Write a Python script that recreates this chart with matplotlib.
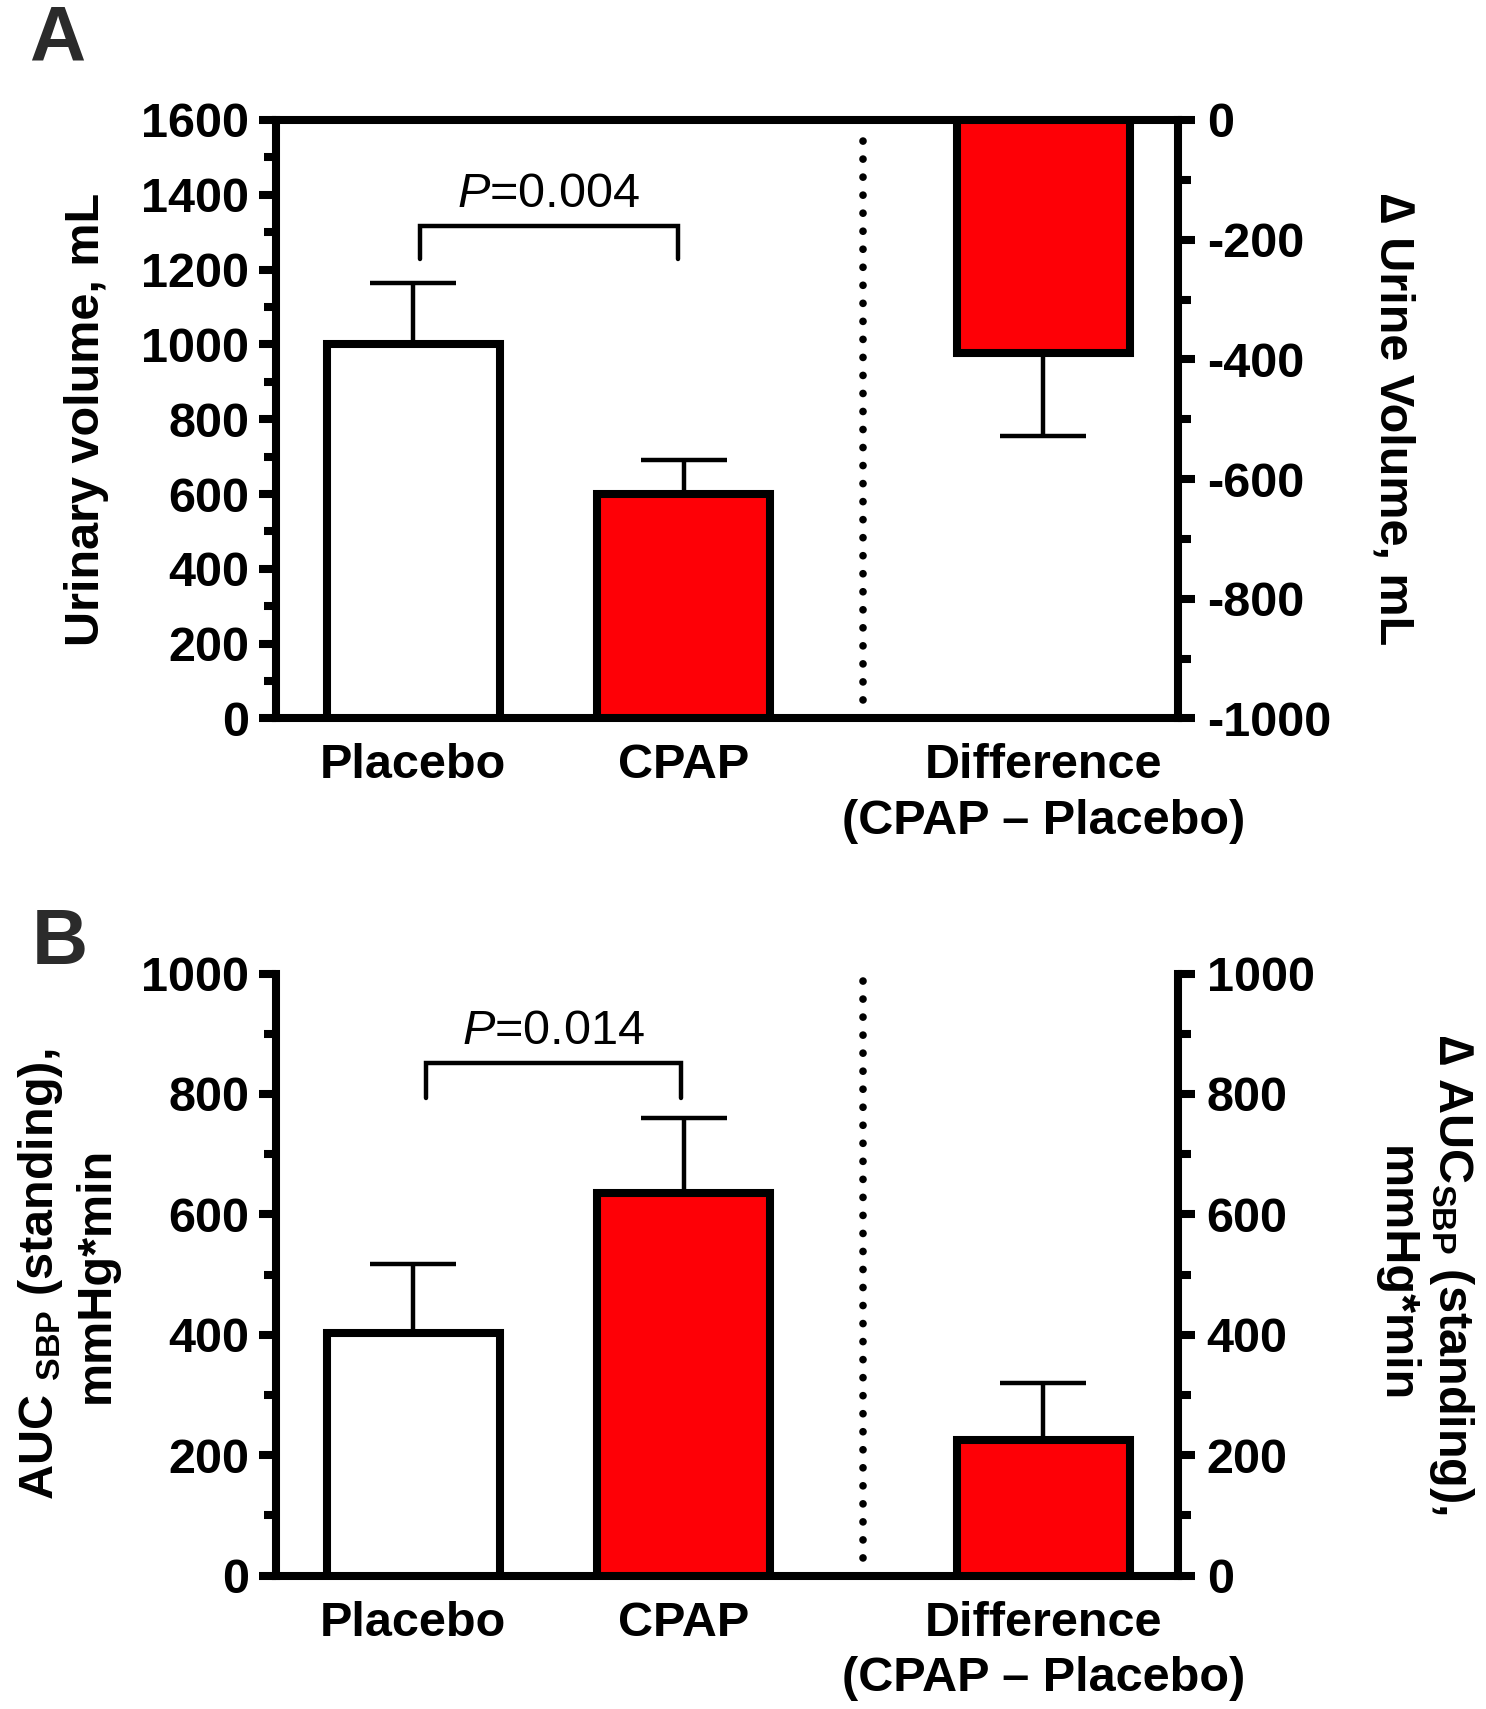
import numpy as np
import matplotlib
matplotlib.use("Agg")
import matplotlib.pyplot as plt
from matplotlib.ticker import MultipleLocator

plt.rcParams['font.family'] = ['Liberation Sans', 'DejaVu Sans']
plt.rcParams['font.weight'] = 'bold'
plt.rcParams['axes.unicode_minus'] = False
plt.rcParams['mathtext.fontset'] = 'custom'
plt.rcParams['mathtext.it'] = 'Liberation Sans:italic:regular'
plt.rcParams['mathtext.bf'] = 'Liberation Sans:bold'
plt.rcParams['mathtext.rm'] = 'Liberation Sans:bold'

# data
groups = ['Placebo', 'CPAP']
diff_label = 'Difference\n(CPAP \u2013 Placebo)'
urine_vals = [1000, 600]
urine_err = [165, 90]
urine_diff = -390
urine_diff_err = 138
urine_p = '0.004'

auc_vals = [403, 635]
auc_err = [115, 125]
auc_diff = 225
auc_diff_err = 95
auc_p = '0.014'

bar_colors = ['white', '#fe0006']
RED = '#fe0006'

xpos = [0, 1]
xdiff = 2.33
xdot = 1.665
bw = 0.64

LW = 5.8
ELW = 3.2
FS = 35

fig = plt.figure(figsize=(14.86, 17.09), dpi=100)
axA = fig.add_axes([0.1856, 0.5796, 0.6068, 0.3502])
axB = fig.add_axes([0.1856, 0.0781, 0.6068, 0.3522])


def style_axis(ax):
    ax.tick_params(axis='y', which='major', length=12, width=LW, labelsize=FS, pad=7, direction='out')
    ax.tick_params(axis='y', which='minor', length=9, width=LW, direction='out')
    ax.tick_params(axis='x', length=0, labelsize=FS, pad=18)


def draw_panel(ax, vals, errs, dval, derr, ylim, dlim, pval, brk, ptxt_y, topspine):
    ax.set_xlim(-0.508, 2.827)
    ax.set_ylim(*ylim)
    yerr = np.array([[0, 0], errs])
    ax.bar(xpos, vals, width=bw, color=bar_colors, edgecolor='black', linewidth=LW,
           yerr=yerr, capsize=31, error_kw=dict(elinewidth=ELW, capthick=ELW, ecolor='black'),
           zorder=3)
    # dotted separator
    ytop = 0.985 if topspine else 1.0
    ax.axvline(xdot, ymin=0.0, ymax=ytop, color='black', lw=5.5, linestyle=(0, (0.01, 2.35)),
               dash_capstyle='round', zorder=2)
    # significance bracket
    x0, x1, ybr, yleg = brk
    ax.plot([x0, x0, x1, x1], [yleg, ybr, ybr, yleg], color='black', lw=3.2,
            solid_capstyle='round', solid_joinstyle='miter', zorder=4)
    ax.text((x0 + x1) / 2, ptxt_y, r'$\it{P}$=' + pval, ha='center', va='center',
            fontsize=FS, fontweight='normal')
    ax.set_xticks([0, 1, xdiff])
    ax.set_xticklabels(groups + [diff_label], fontsize=FS, fontweight='bold', linespacing=1.3)
    for s in ['left', 'bottom', 'top', 'right']:
        ax.spines[s].set_linewidth(LW)
    ax.spines['right'].set_visible(False)
    ax.spines['top'].set_visible(topspine)
    ax2 = ax.twinx()
    ax2.set_ylim(*dlim)
    if dval < 0:
        derr_arr = [[derr], [0]]
    else:
        derr_arr = [[0], [derr]]
    ax2.bar([xdiff], [dval], width=bw, color=RED, edgecolor='black', linewidth=LW,
            yerr=derr_arr, capsize=31, error_kw=dict(elinewidth=ELW, capthick=ELW, ecolor='black'),
            zorder=3)
    for s in ['left', 'bottom', 'top']:
        ax2.spines[s].set_visible(False)
    ax2.spines['right'].set_linewidth(LW)
    style_axis(ax)
    style_axis(ax2)
    ax2.tick_params(axis='y', pad=9)
    for a in (ax, ax2):
        a.yaxis.set_major_locator(MultipleLocator(200))
        a.yaxis.set_minor_locator(MultipleLocator(100))
    return ax2


axA2 = draw_panel(axA, urine_vals, urine_err, urine_diff, urine_diff_err,
                  (0, 1600), (-1000, 0), urine_p, (0.024, 0.98, 1317, 1227), 1402, True)
axA.set_ylabel('Urinary volume, mL', fontsize=FS, fontweight='bold', va='center')
axA.yaxis.set_label_coords(-0.21, 0.5)
axA2.set_ylabel('\u2206 Urine Volume, mL', fontsize=FS, fontweight='bold', rotation=270, va='center')
axA2.yaxis.set_label_coords(1.239, 0.5)

axB2 = draw_panel(axB, auc_vals, auc_err, auc_diff, auc_diff_err,
                  (0, 1000), (0, 1000), auc_p, (0.048, 0.99, 851, 793), 904, False)
axB.set_ylabel('AUC $_{\\mathbf{SBP}}$ (standing),\nmmHg*min', fontsize=FS, fontweight='bold',
               va='center', linespacing=1.25, multialignment='center')
axB.yaxis.set_label_coords(-0.231, 0.5)
axB2.set_ylabel('\u2206 AUC$_{\\mathbf{SBP}}$ (standing),\nmmHg*min', fontsize=FS, fontweight='bold',
                rotation=270, va='center', linespacing=1.25, multialignment='center')
axB2.yaxis.set_label_coords(1.274, 0.5)

for ax in (axA, axA2, axB, axB2):
    for t in ax.get_yticklabels() + ax.get_xticklabels():
        t.set_fontweight('bold')

fig.text(57 / 1486, 1 - 40 / 1709, 'A', fontsize=56, fontweight='bold', color='#2b2b2b',
         ha='center', va='center')
fig.text(60 / 1486, 1 - 944 / 1709, 'B', fontsize=56, fontweight='bold', color='#2b2b2b',
         ha='center', va='center')

fig.savefig('out.png', dpi=100)
